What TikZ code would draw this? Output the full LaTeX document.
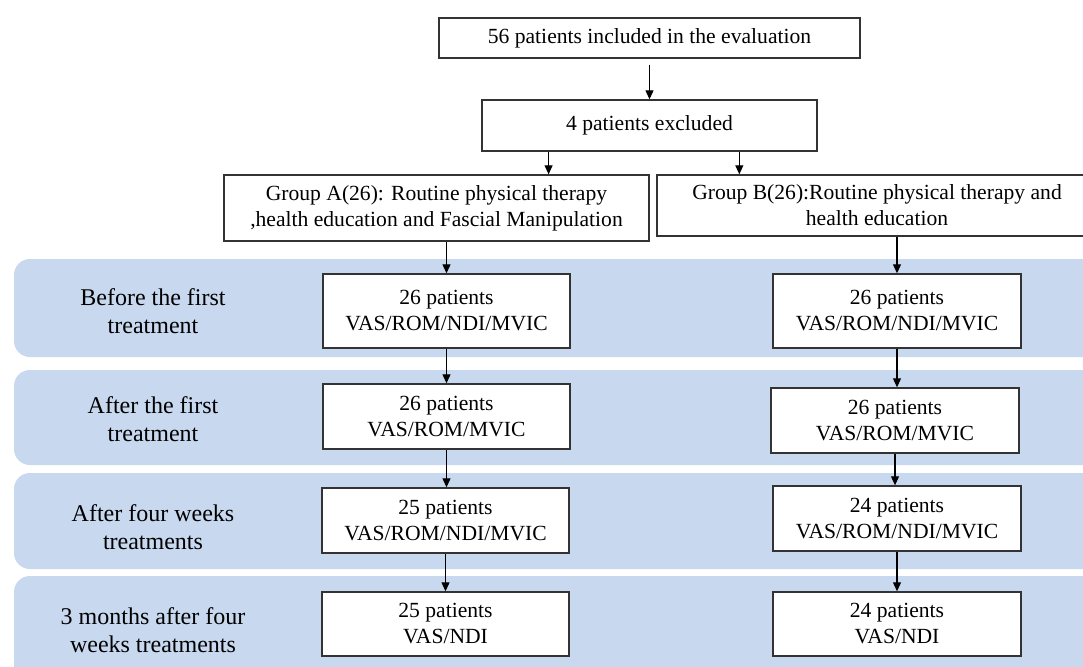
\documentclass[tikz,border=0pt]{standalone}
\usepackage{fontspec}
\setmainfont{Liberation Serif}
\usetikzlibrary{arrows.meta,calc}
\definecolor{bandblue}{HTML}{C7D8EF}
\definecolor{boxline}{HTML}{333333}
\begin{document}
\begin{tikzpicture}[x=1pt,y=-1pt,
  box/.style={draw=boxline,line width=1.4pt,fill=white,align=center,inner sep=0pt,font=\fontsize{21.6}{26}\selectfont},
  band/.style={fill=bandblue,rounded corners=16pt},
  lab/.style={align=center,inner sep=0pt,font=\fontsize{24}{28}\selectfont},
  arr/.style={-{Triangle[length=9pt,width=8pt]},line width=1.1pt,black}]
\useasboundingbox (0,0) rectangle (1083,666);
\fill[white] (0,0) rectangle (1083,666);
% bands
\fill[band] (14,259) rectangle (1120,357);
\fill[band] (14,370) rectangle (1120,465);
\fill[band] (14,473) rectangle (1120,569);
\fill[band] (14,576) rectangle (1120,690);
% band labels
\node[lab] (l1) at (153,311) {Before the first\\treatment};
\node[lab] (l2) at (153,419) {After the first\\treatment};
\node[lab] (l3) at (153,527) {After four weeks\\treatments};
\node[lab] (l4) at (153,630) {3 months after four\\weeks treatments};
% top boxes
\node[box,minimum width=421pt,minimum height=40pt] (n56) at (649.5,38) {56 patients included in the evaluation};
\node[box,minimum width=335pt,minimum height=51pt] (n4) at (649.5,125.5) {4 patients excluded};
\node[box,minimum width=425pt,minimum height=66pt] (gA) at (436.5,208) {Group A(26): Routine physical therapy\\,health education and Fascial Manipulation};
\node[box,minimum width=440pt,minimum height=61pt] (gB) at (877,205.5) {Group B(26):Routine physical therapy and\\health education};
% group A column
\node[box,minimum width=247pt,minimum height=74pt] (A1) at (446.5,311) {26 patients\\VAS/ROM/NDI/MVIC};
\node[box,minimum width=247pt,minimum height=65pt] (A2) at (446.5,416.5) {26 patients\\VAS/ROM/MVIC};
\node[box,minimum width=247pt,minimum height=65pt] (A3) at (445.5,520.5) {25 patients\\VAS/ROM/NDI/MVIC};
\node[box,minimum width=247pt,minimum height=64pt] (A4) at (445.5,624) {25 patients\\VAS/NDI};
% group B column
\node[box,minimum width=248pt,minimum height=74pt] (B1) at (897,311) {26 patients\\VAS/ROM/NDI/MVIC};
\node[box,minimum width=248pt,minimum height=65pt] (B2) at (895,420.5) {26 patients\\VAS/ROM/MVIC};
\node[box,minimum width=248pt,minimum height=65pt] (B3) at (897,518.5) {24 patients\\VAS/ROM/NDI/MVIC};
\node[box,minimum width=248pt,minimum height=64pt] (B4) at (897,624) {24 patients\\VAS/NDI};
% connectors
\draw[arr,shorten <=6pt] (n56.south) -- (n4.north);
\coordinate (eA) at ($(n4.south west)!0.2!(n4.south east)$);
\coordinate (eB) at ($(n4.south west)!0.767!(n4.south east)$);
\draw[arr] (eA) -- (eA |- gA.north);
\draw[arr] (eB) -- (eB |- gB.north);
\draw[arr] (gA.south -| A1.north) -- (A1.north);
\draw[arr] (gB.south -| B1.north) -- (B1.north);
\draw[arr] (A1.south) -- (A1.south |- A2.north);
\draw[arr] (A2.south) -- (A2.south |- A3.north);
\draw[arr] (A3.south) -- (A3.south |- A4.north);
\draw[arr] (B1.south) -- (B1.south |- B2.north);
\draw[arr] (B2.south) -- (B2.south |- B3.north);
\draw[arr] (B3.south) -- (B3.south |- B4.north);
\end{tikzpicture}
\end{document}
